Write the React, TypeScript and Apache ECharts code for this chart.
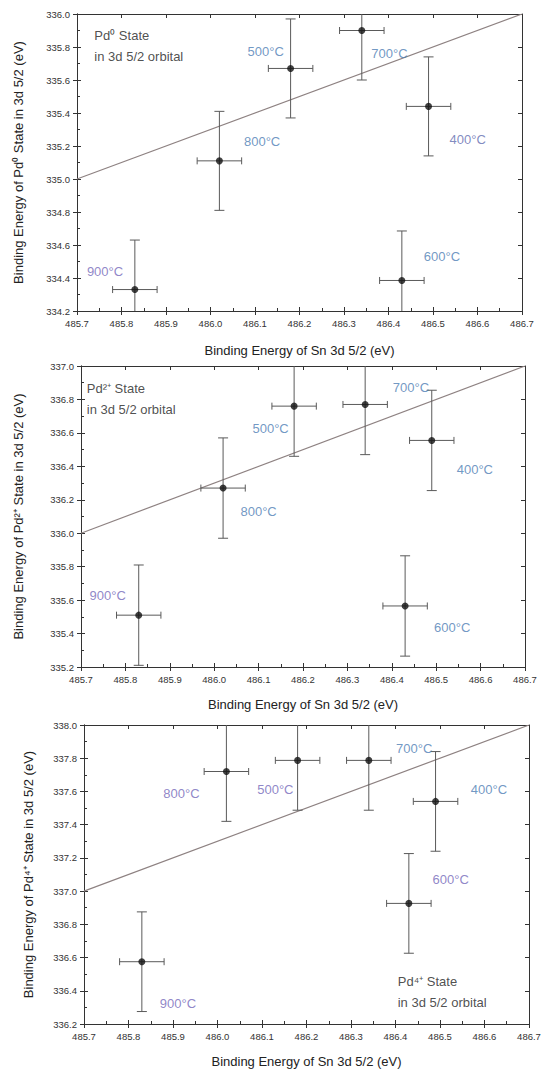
import React, { useEffect, useRef } from "react";
import * as echarts from "echarts";

// ---- data ----
const temperatures = ["900°C", "800°C", "500°C", "700°C", "600°C", "400°C"];
const snBinding = [485.83, 486.02, 486.18, 486.34, 486.43, 486.49];
const pd0Binding = [334.33, 335.11, 335.67, 335.9, 334.385, 335.44];
const pd2Binding = [335.51, 336.27, 336.76, 336.77, 335.565, 336.555];
const pd4Binding = [336.575, 337.72, 337.787, 337.787, 336.926, 337.54];
const snErrorHalf = 0.05;
const pdErrorHalf = 0.3;

const xRange = [485.7, 486.7];
const pd0Range = [334.2, 336.0];
const pd2Range = [335.2, 337.0];
const pd4Range = [336.2, 338.0];
const pd0Fit = [335.0, 336.0];
const pd2Fit = [336.0, 337.0];
const pd4Fit = [337.0, 338.0];

// label anchors (data coordinates)
const pd0LabelX = [485.763, 486.116, 486.124, 486.402, 486.52, 486.578];
const pd0LabelY = [334.44, 335.23, 335.77, 335.76, 334.53, 335.24];
const pd2LabelX = [485.76, 486.1, 486.127, 486.443, 486.536, 486.587];
const pd2LabelY = [335.625, 336.13, 336.625, 336.87, 335.435, 336.38];
const pd4LabelX = [485.911, 485.919, 486.13, 486.442, 486.524, 486.61];
const pd4LabelY = [336.325, 337.59, 337.61, 337.86, 337.067, 337.61];

const BLUE = "#4d7db4";
const PURPLE = "#7367b9";
const FONT = "'Liberation Sans', Arial, sans-serif";

type Panel = {
  ys: number[];
  range: number[];
  fit: number[];
  lx: number[];
  ly: number[];
  colors: string[];
  state: string;
  noteAt: number[];
  grid: { left: number; top: number; width: number; height: number };
  yNameGap: number;
  xNameGap: number;
};

const panels: Panel[] = [
  {
    ys: pd0Binding, range: pd0Range, fit: pd0Fit, lx: pd0LabelX, ly: pd0LabelY,
    colors: [PURPLE, BLUE, BLUE, BLUE, BLUE, "#5f6cb0"],
    state: "Pd⁰", noteAt: [485.739, 335.805],
    grid: { left: 77, top: 14, width: 445, height: 297 }, yNameGap: 52, xNameGap: 33,
  },
  {
    ys: pd2Binding, range: pd2Range, fit: pd2Fit, lx: pd2LabelX, ly: pd2LabelY,
    colors: [PURPLE, BLUE, BLUE, BLUE, BLUE, BLUE],
    state: "Pd²⁺", noteAt: [485.713, 336.8],
    grid: { left: 81, top: 366, width: 444, height: 301 }, yNameGap: 56, xNameGap: 31,
  },
  {
    ys: pd4Binding, range: pd4Range, fit: pd4Fit, lx: pd4LabelX, ly: pd4LabelY,
    colors: [PURPLE, PURPLE, PURPLE, BLUE, PURPLE, BLUE],
    state: "Pd⁴⁺", noteAt: [486.405, 336.39],
    grid: { left: 84, top: 725, width: 445, height: 299 }, yNameGap: 49, xNameGap: 31,
  },
];

function buildOption() {
  const grid: any[] = [];
  const xAxis: any[] = [];
  const yAxis: any[] = [];
  const series: any[] = [];
  const axisLine = { show: true, lineStyle: { color: "#333", width: 1 } };

  panels.forEach((p, g) => {
    grid.push({ ...p.grid, containLabel: false });
    const xBase = {
      type: "value", gridIndex: g, min: xRange[0], max: xRange[1], interval: 0.1,
      splitLine: { show: false }, axisLine,
    };
    const yBase = {
      type: "value", gridIndex: g, min: p.range[0], max: p.range[1], interval: 0.2,
      splitLine: { show: false }, axisLine,
    };
    // main bottom
    xAxis.push({
      ...xBase, position: "bottom",
      name: "Binding Energy of Sn 3d 5/2 (eV)", nameLocation: "middle", nameGap: p.xNameGap,
      nameTextStyle: { fontFamily: FONT, fontSize: 13, color: "#222" },
      axisTick: { show: true, inside: false, length: 4, lineStyle: { color: "#333" } },
      axisLabel: {
        show: true, margin: 7, fontFamily: FONT, fontSize: 9.5, color: "#333",
        formatter: (v: number) => v.toFixed(1),
      },
    });
    // inner bottom ticks
    xAxis.push({
      ...xBase, position: "bottom",
      axisTick: { show: true, inside: true, length: 4, lineStyle: { color: "#333" } },
      minorTick: { show: true, splitNumber: 2, length: 3, lineStyle: { color: "#333" } },
      axisLabel: { show: false },
    });
    // top
    xAxis.push({
      ...xBase, position: "top",
      axisTick: { show: true, inside: true, length: 4, lineStyle: { color: "#333" } },
      axisLabel: { show: false },
    });
    // main left
    yAxis.push({
      ...yBase, position: "left",
      name: `Binding Energy of ${p.state} State in 3d 5/2 (eV)`, nameLocation: "middle",
      nameGap: p.yNameGap, nameRotate: 90,
      nameTextStyle: { fontFamily: FONT, fontSize: 13, color: "#222" },
      axisTick: { show: true, inside: false, length: 4, lineStyle: { color: "#333" } },
      axisLabel: {
        show: true, margin: 7, fontFamily: FONT, fontSize: 9.5, color: "#333",
        formatter: (v: number) => v.toFixed(1),
      },
    });
    yAxis.push({
      ...yBase, position: "left",
      axisTick: { show: true, inside: true, length: 4, lineStyle: { color: "#333" } },
      minorTick: { show: true, splitNumber: 2, length: 3, lineStyle: { color: "#333" } },
      axisLabel: { show: false },
    });
    yAxis.push({
      ...yBase, position: "right",
      axisTick: { show: true, inside: true, length: 4, lineStyle: { color: "#333" } },
      axisLabel: { show: false },
    });

    const xi = g * 3;
    const yi = g * 3;
    const pts = snBinding.map((x, i) => [x, p.ys[i]]);

    // fit line
    series.push({
      type: "line", xAxisIndex: xi, yAxisIndex: yi, symbol: "none",
      data: [[xRange[0], p.fit[0]], [xRange[1], p.fit[1]]],
      lineStyle: { color: "#8e8282", width: 1.2 }, z: 2, silent: true,
    });
    // error bars
    series.push({
      type: "custom", xAxisIndex: xi, yAxisIndex: yi, clip: true, z: 3,
      data: pts,
      renderItem: (_params: any, api: any) => {
        const x = api.value(0);
        const y = api.value(1);
        const top = api.coord([x, y + pdErrorHalf]);
        const bot = api.coord([x, y - pdErrorHalf]);
        const lft = api.coord([x - snErrorHalf, y]);
        const rgt = api.coord([x + snErrorHalf, y]);
        const cw = 5;
        const ch = 3.5;
        const style = { stroke: "#5a5a5a", lineWidth: 1 };
        const ln = (x1: number, y1: number, x2: number, y2: number) => ({
          type: "line", shape: { x1, y1, x2, y2 }, style,
        });
        return {
          type: "group",
          children: [
            ln(top[0], top[1], bot[0], bot[1]),
            ln(top[0] - cw, top[1], top[0] + cw, top[1]),
            ln(bot[0] - cw, bot[1], bot[0] + cw, bot[1]),
            ln(lft[0], lft[1], rgt[0], rgt[1]),
            ln(lft[0], lft[1] - ch, lft[0], lft[1] + ch),
            ln(rgt[0], rgt[1] - ch, rgt[0], rgt[1] + ch),
          ],
        };
      },
    });
    // points
    series.push({
      type: "scatter", xAxisIndex: xi, yAxisIndex: yi, symbol: "circle", symbolSize: 7,
      itemStyle: { color: "#111" }, data: pts, z: 5,
    });
    // temperature labels
    series.push({
      type: "scatter", xAxisIndex: xi, yAxisIndex: yi, symbolSize: 0, z: 6, silent: true,
      data: temperatures.map((t, i) => ({
        name: t, value: [p.lx[i], p.ly[i]],
        label: { color: p.colors[i] },
      })),
      label: {
        show: true, position: "inside", formatter: (d: any) => d.name,
        fontFamily: FONT, fontSize: 13,
      },
    });
    // state note
    series.push({
      type: "scatter", xAxisIndex: xi, yAxisIndex: yi, symbolSize: 0, z: 6, silent: true,
      data: [{ name: "note", value: p.noteAt }],
      label: {
        show: true, position: "right", distance: 0, align: "left",
        formatter: `${p.state} State\nin 3d 5/2 orbital`,
        fontFamily: FONT, fontSize: 13, color: "#222", lineHeight: 21,
      },
    });
  });

  return {
    animation: false,
    backgroundColor: "#fff",
    grid, xAxis, yAxis, series,
  };
}

export default function App() {
  const ref = useRef<HTMLDivElement>(null);
  useEffect(() => {
    document.body.style.margin = "0";
    if (!ref.current) return;
    const chart = echarts.init(ref.current, undefined, { renderer: "svg" });
    chart.setOption(buildOption() as any);
    return () => chart.dispose();
  }, []);
  return <div ref={ref} style={{ width: 544, height: 1071, background: "#fff" }} />;
}
